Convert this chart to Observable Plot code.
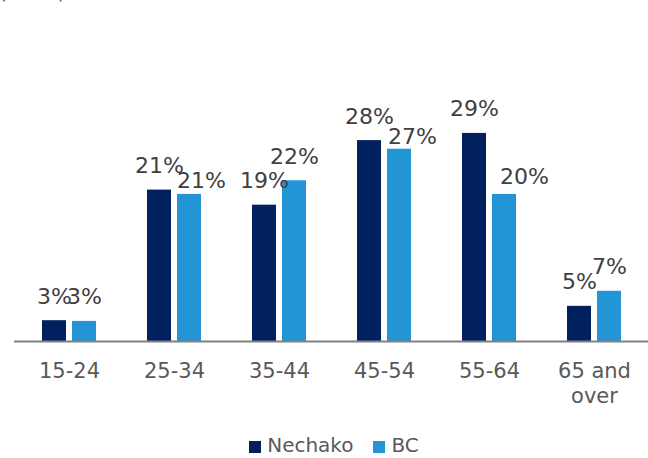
<!DOCTYPE html>
<html>
<head>
<meta charset="utf-8">
<script src="https://cdn.jsdelivr.net/npm/d3@7"></script>
<script src="https://cdn.jsdelivr.net/npm/@observablehq/plot@0.6"></script>
<style>
  html, body { margin: 0; padding: 0; background: #fff; }
  body { width: 648px; height: 458px; position: relative; overflow: hidden; font-family: "DejaVu Sans", Verdana, sans-serif; }
  #top { position: absolute; top: -18px; left: -1px; font-size: 20px; line-height: 20px; color: #595959; white-space: nowrap; }
  #chart { position: absolute; top: 0; left: 0; }
  #legend { position: absolute; top: 433px; left: 10px; width: 648px; display: flex; justify-content: center; align-items: center; font-size: 20px; line-height: 24px; color: #595959; }
  #legend .sw { display: inline-block; width: 12px; height: 12px; margin-right: 6px; position: relative; top: 2px; }
  #legend .item { display: flex; align-items: center; margin: 0 10px; }
</style>
</head>
<body>
<div id="top">(2016)</div>
<div id="chart"></div>
<div id="legend"></div>
<script>
// Data
const categories = ["15-24", "25-34", "35-44", "45-54", "55-64", "65 and over"];
const series = ["Nechako", "BC"];
const nechako = [2.9, 21.1, 19.0, 28.0, 29.0, 4.9];
const bc = [2.8, 20.5, 22.4, 26.8, 20.5, 7.0];
const nechakoLabels = ["3%", "21%", "19%", "28%", "29%", "5%"];
const bcLabels = ["3%", "21%", "22%", "27%", "20%", "7%"];
const tickLabels = ["15-24", "25-34", "35-44", "45-54", "55-64", "65 and\nover"];

// Layout (not data)
const colors = {Nechako: "#002060", BC: "#2394D6"};
const bcNudge = {"25-34": [12, 11], "45-54": [13, 12], "55-64": [20, 7]};

const rowsN = categories.map((c, i) => ({age: c, value: nechako[i], label: nechakoLabels[i]}));
const rowsB = categories.map((c, i) => ({age: c, value: bc[i], label: bcLabels[i], ndx: (bcNudge[c] || [0, 0])[0], ndy: (bcNudge[c] || [0, 0])[1]}));

const plot = Plot.plot({
  width: 648,
  height: 425,
  marginLeft: 14,
  marginRight: 0,
  marginTop: 54,
  marginBottom: 84,
  style: {fontFamily: "DejaVu Sans, Verdana, sans-serif", fontSize: "21px", background: "transparent"},
  x: {domain: categories, paddingInner: 0.49, paddingOuter: 0.245, axis: null},
  y: {domain: [0, 40], axis: null},
  marks: [
    Plot.barY(rowsN, {x: "age", y: "value", fill: colors.Nechako, insetRight: 30, insetLeft: 0}),
    Plot.barY(rowsB, {x: "age", y: "value", fill: colors.BC, insetLeft: 30, insetRight: 0}),
    Plot.ruleY([0], {stroke: "#808080", strokeWidth: 2.2}),
    Plot.text(rowsN, {x: "age", y: "value", text: "label", dx: -15, dy: -17, lineAnchor: "bottom", fill: "#404040", fontSize: 22}),
    ...rowsB.map(r => Plot.text([r], {x: "age", y: "value", text: "label", dx: 15 + r.ndx, dy: -17 + r.ndy, lineAnchor: "bottom", fill: "#404040", fontSize: 22})),
    Plot.axisX({tickSize: 0, tickPadding: 19, fill: "#595959", fontSize: 21, lineHeight: 1.18, label: null, tickFormat: (d) => tickLabels[categories.indexOf(d)]})
  ]
});
document.getElementById("chart").appendChild(plot);

const legend = document.getElementById("legend");
series.forEach(s => {
  const item = document.createElement("span");
  item.className = "item";
  const sw = document.createElement("span");
  sw.className = "sw";
  sw.style.background = colors[s];
  item.appendChild(sw);
  item.appendChild(document.createTextNode(s));
  legend.appendChild(item);
});
</script>
</body>
</html>
